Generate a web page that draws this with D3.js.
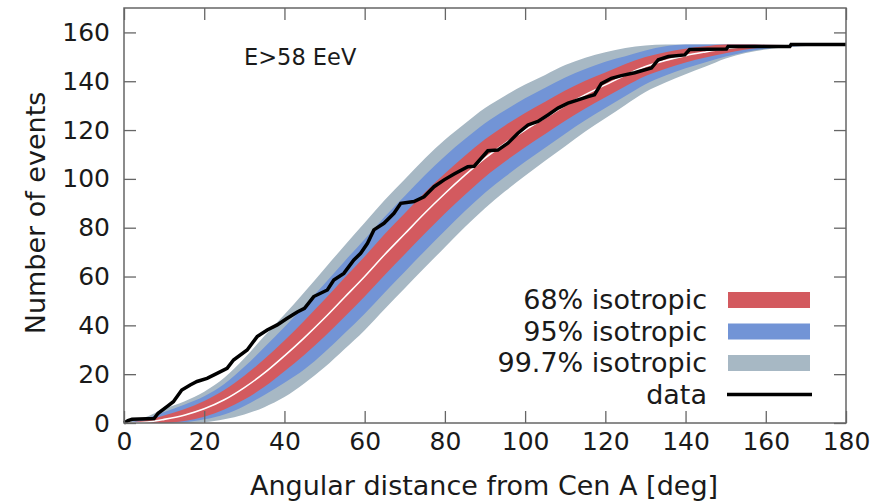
<!DOCTYPE html>
<html>
<script src='https://d3js.org/d3.v7.min.js'></script>
<style>
 body {margin: 0; background: white;}
 text {font-family: 'DejaVu Sans', sans-serif; fill: #1a1a1a;}
</style>
<body onload='init()'>
<svg width=890 height=504>
</svg>
<script>
// angular grid for the isotropic bands [deg]
var theta = [0,5,10,15,20,25,30,35,40,45,50,55,60,65,70,75,80,85,90,95,100,105,110,115,120,125,130,135,140,145,150,155,160,170,180];
var median = [0,0.3,1.5,3.2,5.8,9.5,14.5,20.5,27.5,35,43,51.5,60,69,77.5,86,94,101.5,108.5,114.5,120,125,130,134.5,138.5,142.5,146,148.5,150.5,152,153.3,154.2,154.7,155,155];
var lo68 = [0,0,0,0.8,2.6,5.5,9.6,14.8,21.2,28.0,35.4,43.5,51.8,60.6,69.1,77.6,85.8,93.5,100.8,107.1,113.0,118.4,123.8,128.8,133.4,137.9,142.1,145.1,147.7,149.7,151.5,153.0,154.0,154.7,155];
var hi68 = [0,0.98,3.1,5.6,9.0,13.5,19.4,26.2,33.8,42.0,50.6,59.5,68.2,77.4,85.9,94.4,102.2,109.5,116.2,121.9,127.0,131.6,136.2,140.2,143.6,147.1,149.9,151.9,153.3,154.3,155,155,155,155,155];
var lo95 = [0,0,0,0.3,1.5,3.5,7.0,11.5,16.5,22.0,29.0,36.8,44.8,53.5,62.0,70.5,78.8,86.8,94.3,100.9,107.0,112.8,118.5,124.0,129.0,134.0,138.8,142.3,145.3,147.8,150.1,152.0,153.3,154.5,155];
var hi95 = [0,1.55,4.5,7.5,11.0,16.0,23.0,31.0,39.3,48.0,57.0,66.3,75.3,84.5,93.0,101.5,109.3,116.3,122.8,128.1,133.0,137.3,141.5,145.0,148.0,150.2,152.6,154.3,155,155,155,155,155,155,155];
var lo99 = [0,0,0,0,0.3,1.5,3.5,6.5,10.6,16.3,22.8,30.3,38.0,46.7,55.2,63.7,72.0,80.3,88.0,94.9,101.3,107.4,113.4,119.4,124.8,130.3,135.6,139.5,142.9,146.0,149.3,151.6,153.0,154.4,155];
var hi99 = [0,2.1,5.8,8.8,12.8,18.5,26.5,35.6,44.4,53.7,63.2,72.7,82.0,91.3,99.8,108.3,116.0,122.7,129.0,134.1,138.7,142.6,146.6,149.6,151.9,153.6,154.6,155,155,155,155,155,155,155,155];

// observed cumulative count (vertices of the data curve)
var dataDeg = [0,1,2,7.5,8.5,10.7,12.3,14.4,16.5,18.2,20.7,23.2,25.7,27.3,30.7,33.2,35.7,38.2,40.7,43.2,45,47.3,50.7,52.3,54.8,57.3,59,60.7,62.3,64.8,67.3,69,72.3,74.8,77.3,79.8,82.3,85.7,87.3,90.7,93.2,95.7,98.2,100.7,103.2,105.7,108.2,110.7,113.2,115.7,117.3,119,121.5,124,127.3,131.5,133.2,135.7,139.8,141,150.2,150.6,166,166.3,180];
var dataN = [0,1,1.5,1.8,4,6.7,8.7,13.5,15.6,17,18.3,20.3,22.4,25.8,29.9,35.4,38.1,40.2,42.9,45.5,47,51.8,54.5,58.6,61.3,66.8,69.5,73.6,79.1,81.8,85.9,90,90.7,92.7,96.8,99.6,102,105,105.2,111.5,111.8,114.6,118.7,122.1,123.5,126.2,129,131,132.4,133.7,134.5,139,141.2,142.3,143.5,145.4,148.8,150.1,150.8,153,153.2,154.2,154.2,155,155];

var xTicks = [0,20,40,60,80,100,120,140,160,180];
var yTicks = [0,20,40,60,80,100,120,140,160];
var legendLabels = ['68% isotropic','95% isotropic','99.7% isotropic','data'];
var legendColors = ['#d35a5f','#7294d6','#a7b8c4','#000'];

function init() {
 var svg = d3.select('svg');
 var x = d3.scaleLinear().domain([0, 180]).range([124, 846]);
 var y = d3.scaleLinear().domain([0, 170]).range([423, 8]);

 function band(lo, hi) {
  return d3.area().curve(d3.curveMonotoneX)
   .x(function (d, i) { return x(theta[i]); })
   .y0(function (d, i) { return y(lo[i]); })
   .y1(function (d, i) { return y(hi[i]); })(theta);
 }
 svg.append('path').attr('d', band(lo99, hi99)).attr('fill', legendColors[2]);
 svg.append('path').attr('d', band(lo95, hi95)).attr('fill', legendColors[1]);
 svg.append('path').attr('d', band(lo68, hi68)).attr('fill', legendColors[0]);
 svg.append('path')
  .attr('d', d3.line().curve(d3.curveMonotoneX)
   .x(function (d, i) { return x(theta[i]); })
   .y(function (d, i) { return y(median[i]); })(theta))
  .attr('fill', 'none').attr('stroke', 'white').attr('stroke-width', 1.6);

 svg.append('path')
  .attr('d', d3.line()
   .x(function (d, i) { return x(dataDeg[i]); })
   .y(function (d, i) { return y(dataN[i]); })(dataDeg))
  .attr('fill', 'none').attr('stroke', 'black').attr('stroke-width', 3.5);

 // axes, ticks pointing inwards and mirrored on top / right
 var gb = svg.append('g').attr('transform', 'translate(0,423)')
  .call(d3.axisBottom(x).tickValues(xTicks).tickSizeInner(-12).tickSizeOuter(0).tickPadding(9));
 var gt = svg.append('g').attr('transform', 'translate(0,8)')
  .call(d3.axisTop(x).tickValues(xTicks).tickSizeInner(-12).tickSizeOuter(0).tickFormat(''));
 var gl = svg.append('g').attr('transform', 'translate(124,0)')
  .call(d3.axisLeft(y).tickValues(yTicks).tickSizeInner(-12).tickSizeOuter(0).tickPadding(14));
 var gr = svg.append('g').attr('transform', 'translate(846,0)')
  .call(d3.axisRight(y).tickValues(yTicks).tickSizeInner(-12).tickSizeOuter(0).tickFormat(''));
 [gb, gt, gl, gr].forEach(function (g) {
  g.select('.domain').remove();
  g.selectAll('line').attr('stroke', '#666').attr('stroke-width', 1.3);
  g.selectAll('text').attr('font-size', 25).attr('font-family', 'DejaVu Sans').attr('fill', '#1a1a1a');
 });
 svg.append('rect').attr('x', 124).attr('y', 8).attr('width', 722).attr('height', 415)
  .attr('fill', 'none').attr('stroke', '#666').attr('stroke-width', 1.5);

 svg.append('text').attr('x', 484).attr('y', 495).attr('text-anchor', 'middle')
  .attr('font-size', 27).text('Angular distance from Cen A [deg]');
 svg.append('text').attr('transform', 'translate(45,213) rotate(-90)').attr('text-anchor', 'middle')
  .attr('font-size', 27).text('Number of events');
 svg.append('text').attr('x', 244).attr('y', 65).attr('font-size', 22.5).text('E>58 EeV');

 // legend
 var leg = svg.append('g').selectAll('g').data(legendLabels).enter().append('g')
  .attr('transform', function (d, i) { return 'translate(0,' + (300 + i * 31.5) + ')'; });
 leg.append('text').attr('x', 707).attr('y', 9).attr('text-anchor', 'end')
  .attr('font-size', 27).text(function (d) { return d; });
 leg.filter(function (d, i) { return i < 3; }).append('rect')
  .attr('x', 728).attr('y', -8).attr('width', 82).attr('height', 16)
  .attr('fill', function (d, i) { return legendColors[i]; });
 leg.filter(function (d, i) { return i == 3; }).append('line')
  .attr('x1', 727).attr('x2', 812).attr('y1', 0).attr('y2', 0)
  .attr('stroke', 'black').attr('stroke-width', 3.5);
}
</script>
</body>
</html>
